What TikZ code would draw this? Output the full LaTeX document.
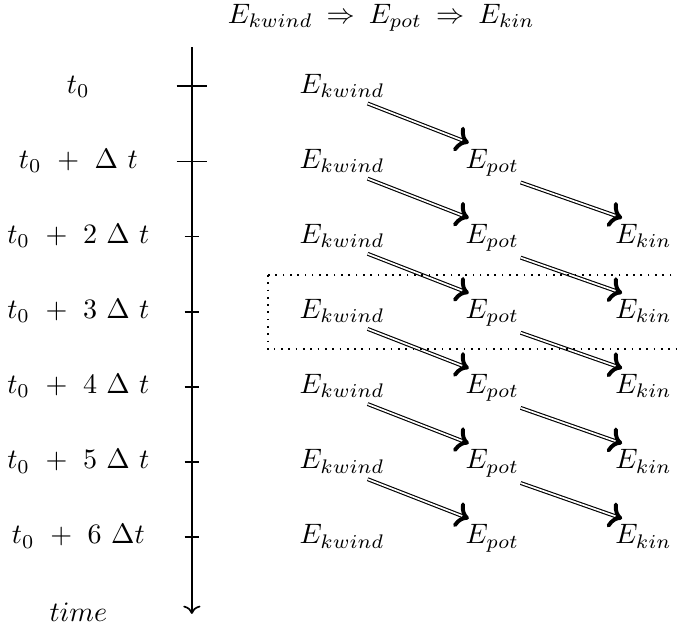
\documentclass[tikz,border=0pt]{standalone}
\usepackage{amsmath,amssymb}
\usepackage{tikz}
\usetikzlibrary{arrows.meta,positioning,calc}

\begin{document}
\begin{tikzpicture}[
    lbl/.style={inner sep=2pt, anchor=base},
    en/.style={inner sep=2pt, anchor=base},
    flow/.style={-{To[scale=0.95]}, line width=1.4pt,
                 postaction={draw=white, line width=0.6pt, -, shorten >=2.5pt}},
    bigtick/.style={semithick},
    smalltick/.style={semithick},
    box/.style={dotted, semithick}
]
    \useasboundingbox (0,0) rectangle (8.47,-7.88);

    % header
    \node[en, inner sep=0pt] (head) at (4.77,-0.29) {$E_{kwind} \: \Rightarrow \: E_{pot} \: \Rightarrow \: E_{kin}$};

    % time axis
    \coordinate (top) at (2.40,-0.59);
    \coordinate (bot) at (2.40,-7.68);
    \draw[semithick, ->] (top) -- (bot);
    \draw[bigtick]   (2.21,-1.08) -- (2.59,-1.08);
    \draw[bigtick]   (2.21,-2.02) -- (2.59,-2.02);
    \draw[smalltick] (2.31,-2.96) -- (2.49,-2.96);
    \draw[smalltick] (2.31,-3.90) -- (2.49,-3.90);
    \draw[smalltick] (2.31,-4.84) -- (2.49,-4.84);
    \draw[smalltick] (2.31,-5.78) -- (2.49,-5.78);
    \draw[smalltick] (2.31,-6.72) -- (2.49,-6.72);

    % time labels
    \node[lbl] (t0) at (0.98,-1.165) {$t_0$};
    \node[lbl] (t1) at (0.98,-2.105) {$t_0 \ + \ \Delta \ t$};
    \node[lbl] (t2) at (0.98,-3.045) {$t_0 \ + \ 2 \ \Delta \ t$};
    \node[lbl] (t3) at (0.98,-3.985) {$t_0 \ + \ 3 \ \Delta \ t$};
    \node[lbl] (t4) at (0.98,-4.925) {$t_0 \ + \ 4 \ \Delta \ t$};
    \node[lbl] (t5) at (0.98,-5.865) {$t_0 \ + \ 5 \ \Delta \ t$};
    \node[lbl] (t6) at (0.98,-6.805) {$t_0 \ + \ 6 \ \Delta t$};
    \node[lbl] (time) at (0.98,-7.77) {$time$};

    % energies
    \node[en] (kw0) at (4.28,-1.165) {$E_{kwind}$};
    \node[en] (kw1) at (4.28,-2.105) {$E_{kwind}$};
    \node[en] (kw2) at (4.28,-3.045) {$E_{kwind}$};
    \node[en] (kw3) at (4.28,-3.985) {$E_{kwind}$};
    \node[en] (kw4) at (4.28,-4.925) {$E_{kwind}$};
    \node[en] (kw5) at (4.28,-5.865) {$E_{kwind}$};
    \node[en] (kw6) at (4.28,-6.805) {$E_{kwind}$};

    \node[en] (pot1) at (6.16,-2.105) {$E_{pot}$};
    \node[en] (pot2) at (6.16,-3.045) {$E_{pot}$};
    \node[en] (pot3) at (6.16,-3.985) {$E_{pot}$};
    \node[en] (pot4) at (6.16,-4.925) {$E_{pot}$};
    \node[en] (pot5) at (6.16,-5.865) {$E_{pot}$};
    \node[en] (pot6) at (6.16,-6.805) {$E_{pot}$};

    \node[en] (kin2) at (8.05,-3.045) {$E_{kin}$};
    \node[en] (kin3) at (8.05,-3.985) {$E_{kin}$};
    \node[en] (kin4) at (8.05,-4.925) {$E_{kin}$};
    \node[en] (kin5) at (8.05,-5.865) {$E_{kin}$};
    \node[en] (kin6) at (8.05,-6.805) {$E_{kin}$};

    % transfers
    \draw[flow] (kw0.-35) -- (pot1.140);
    \draw[flow] (kw1.-35) -- (pot2.140);
    \draw[flow] (kw2.-35) -- (pot3.140);
    \draw[flow] (kw3.-35) -- (pot4.140);
    \draw[flow] (kw4.-35) -- (pot5.140);
    \draw[flow] (kw5.-35) -- (pot6.140);
    \draw[flow] (pot1.-35) -- (kin2.140);
    \draw[flow] (pot2.-35) -- (kin3.140);
    \draw[flow] (pot3.-35) -- (kin4.140);
    \draw[flow] (pot4.-35) -- (kin5.140);
    \draw[flow] (pot5.-35) -- (kin6.140);

    % one time step
    \draw[box] (3.35,-3.44) rectangle (8.60,-4.37);
\end{tikzpicture}
\end{document}
